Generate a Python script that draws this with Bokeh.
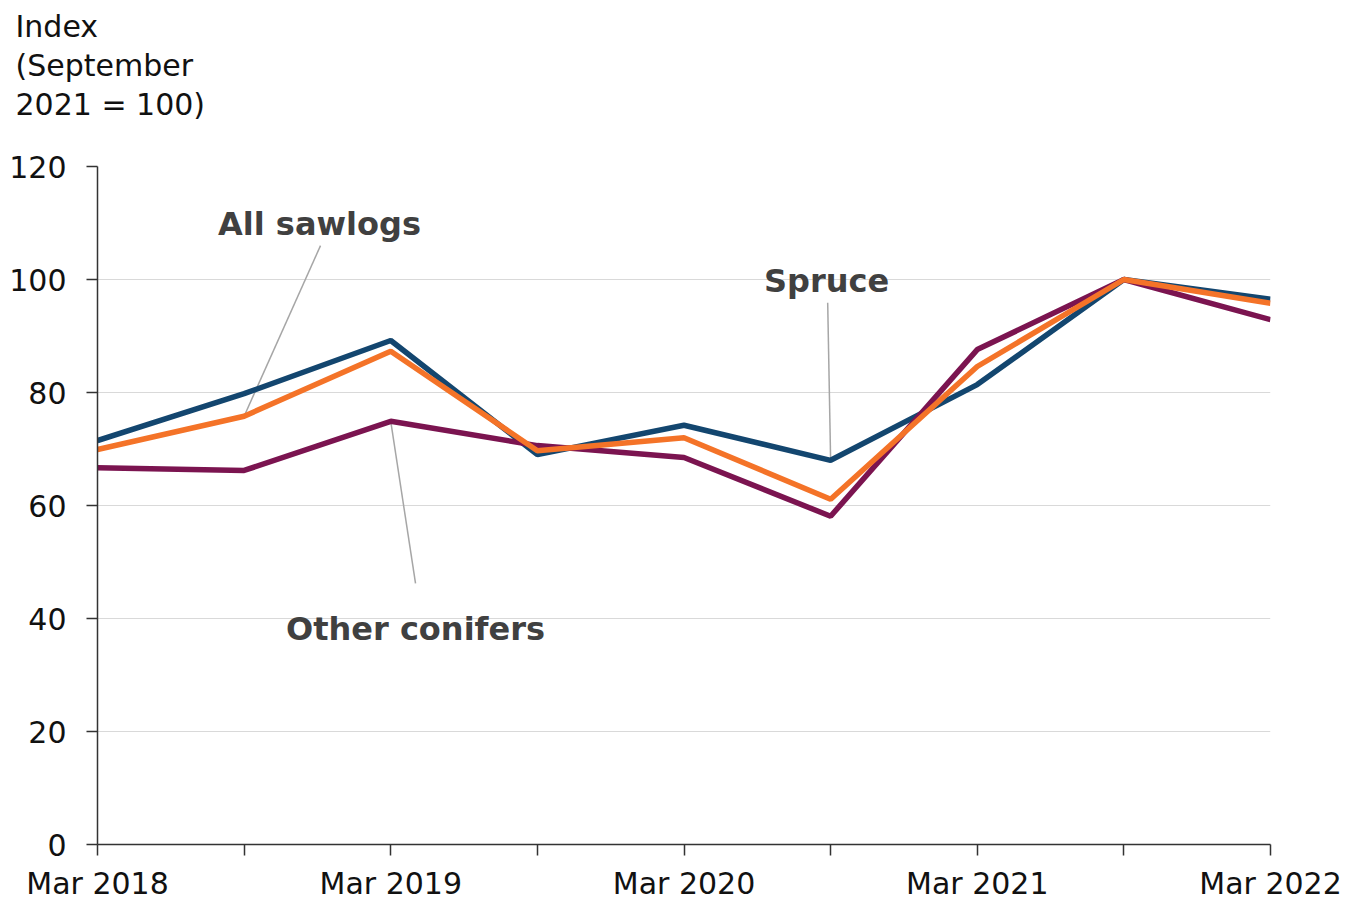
from bokeh.plotting import figure
from bokeh.models import FixedTicker, Label, Range1d
from bokeh.embed import file_html
from bokeh.resources import INLINE

periods = ["Mar 2018", "Sep 2018", "Mar 2019", "Sep 2019", "Mar 2020",
           "Sep 2020", "Mar 2021", "Sep 2021", "Mar 2022"]
tick_labels = ["Mar 2018", "", "Mar 2019", "", "Mar 2020", "", "Mar 2021", "", "Mar 2022"]
spruce = [71.5, 79.8, 89.2, 69.0, 74.2, 68.0, 81.4, 100.0, 96.5]
all_sawlogs = [69.9, 75.8, 87.3, 69.7, 72.0, 61.1, 84.6, 100.0, 95.8]
other_conifers = [66.7, 66.2, 74.9, 70.6, 68.5, 58.1, 87.6, 100.0, 92.9]
y_ticks = [0, 20, 40, 60, 80, 100, 120]
y_title = "Index\n(September\n2021 = 100)\n "

x = list(range(len(periods)))

BLUE = "#13466f"
ORANGE = "#f47328"
PURPLE = "#7b1450"
GREY_TXT = "#404040"

p = figure(width=1355, height=903, output_backend="svg", toolbar_location=None,
           x_range=Range1d(0, 8), y_range=Range1d(0, 120),
           min_border_left=97, min_border_right=85, min_border_top=166,
           min_border_bottom=59)
p.outline_line_color = None
p.background_fill_color = "white"
p.border_fill_color = "white"

p.title.text = y_title
p.title.align = "left"
p.title.offset = -82
p.title.text_font = "DejaVu Sans"
p.title.text_font_size = "30px"
p.title.text_font_style = "normal"
p.title.text_color = "#111111"
p.title.text_line_height = 1.12
p.title.standoff = 10

p.xgrid.grid_line_color = None
p.ygrid.grid_line_color = "#d9d9d9"
p.ygrid.grid_line_width = 1

p.xaxis.ticker = FixedTicker(ticks=x)
p.xaxis.major_label_overrides = {i: t for i, t in zip(x, tick_labels)}
p.yaxis.ticker = FixedTicker(ticks=y_ticks)
for ax in (p.xaxis, p.yaxis):
    ax.axis_line_color = "#333333"
    ax.axis_line_width = 1.5
    ax.major_tick_line_color = "#333333"
    ax.major_tick_line_width = 1.5
    ax.major_tick_out = 11
    ax.major_tick_in = 0
    ax.minor_tick_line_color = None
    ax.major_label_text_font = "DejaVu Sans"
    ax.major_label_text_font_size = "30px"
    ax.major_label_text_color = "#111111"
p.xaxis.major_label_standoff = 10
p.yaxis.major_label_standoff = 20

# leader lines
lead_from = [(1.521, 106.0), (4.980, 95.9), (2.169, 46.2)]
lead_to = [(x[1], all_sawlogs[1]), (x[5], spruce[5]), (x[2], other_conifers[2])]
for (x0, y0), (x1, y1) in zip(lead_from, lead_to):
    p.line([x0, x1], [y0, y1], line_color="#a6a6a6", line_width=1.5)

p.line(x, spruce, line_color=BLUE, line_width=5.5)
p.line(x, other_conifers, line_color=PURPLE, line_width=5.5)
p.line(x, all_sawlogs, line_color=ORANGE, line_width=5.5)

series_names = ["All sawlogs", "Spruce", "Other conifers"]
name_pos = [(1.514, 109.9), (4.973, 99.8), (2.169, 38.2)]
for name, (lx, ly) in zip(series_names, name_pos):
    p.add_layout(Label(x=lx, y=ly, text=name, text_font="DejaVu Sans",
                       text_font_style="bold", text_font_size="32px",
                       text_color=GREY_TXT, text_align="center",
                       text_baseline="middle"))

open("out.html", "w").write(file_html(p, INLINE))
